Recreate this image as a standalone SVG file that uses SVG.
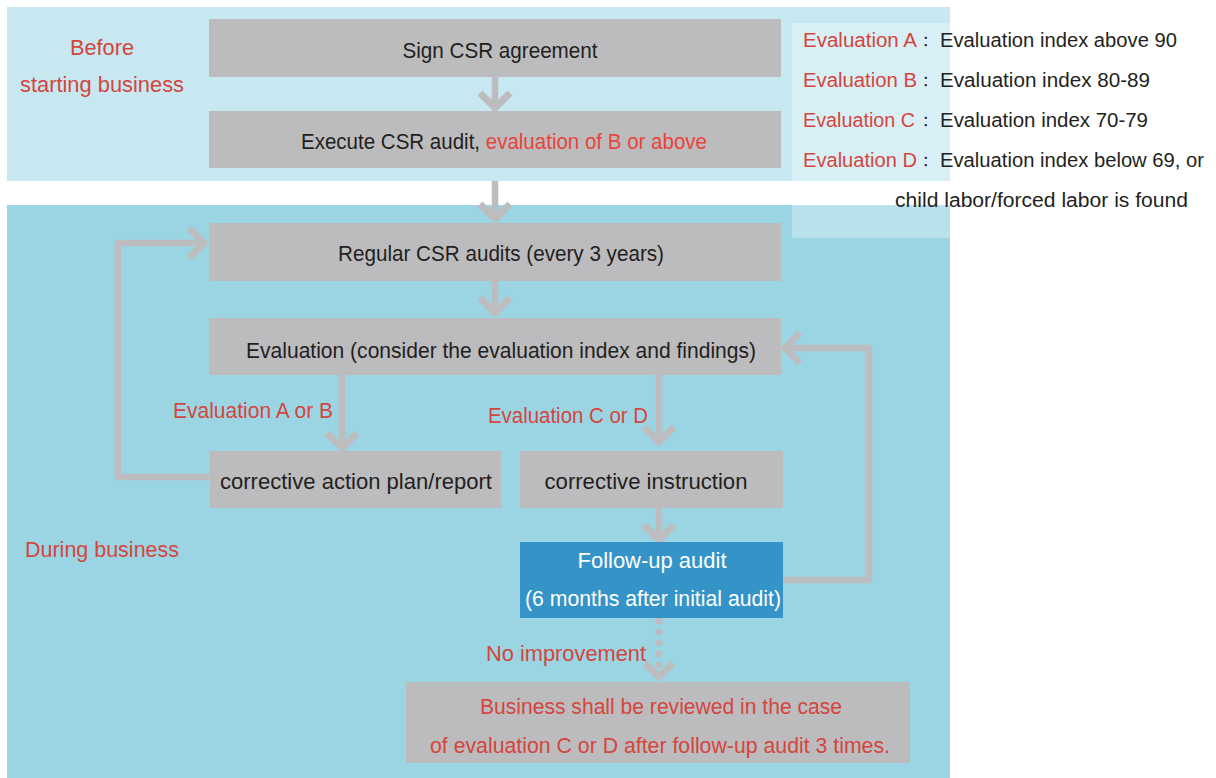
<svg xmlns="http://www.w3.org/2000/svg" width="1216" height="778" viewBox="0 0 1216 778">
<style>
text{font-family:"Liberation Sans",Arial,sans-serif;font-size:22px;fill:#231f20}
.lg{font-size:20px}
.colon{font-size:15px;font-family:"Noto Sans CJK SC","Liberation Sans",sans-serif}
.red{fill:#d5453d}
.red2{fill:#e8453a}
.box{fill:#bcbcbe}
.conn{fill:none;stroke:#bdbdbf;stroke-width:6.5;stroke-linejoin:round}
.head{fill:none;stroke:#bdbdbf;stroke-width:7;stroke-linejoin:round;stroke-linecap:butt}
.w{fill:#ffffff}
</style>
<rect width="1216" height="778" fill="#ffffff"/>
<g id="band-before">
<rect x="7" y="7" width="943" height="174" fill="#c8e8f1"/>
<text class="red" x="102" y="55" text-anchor="middle" textLength="64" lengthAdjust="spacingAndGlyphs">Before</text>
<text class="red" x="102" y="92" text-anchor="middle" textLength="164" lengthAdjust="spacingAndGlyphs">starting business</text>
</g>
<g id="band-during">
<rect x="7" y="205" width="943" height="573" fill="#9bd5e3"/>
<text class="red" x="102" y="557" text-anchor="middle" textLength="154" lengthAdjust="spacingAndGlyphs">During business</text>
</g>
<g id="legend">
<rect x="792" y="23" width="158" height="215" fill="#ffffff" fill-opacity="0.3"/>
<text class="lg red" x="803" y="47" textLength="114" lengthAdjust="spacingAndGlyphs">Evaluation A</text>
<text class="colon" x="922" y="46">：</text>
<text class="lg" x="940" y="47" textLength="237" lengthAdjust="spacingAndGlyphs">Evaluation index above 90</text>
<text class="lg red" x="803" y="87" textLength="114" lengthAdjust="spacingAndGlyphs">Evaluation B</text>
<text class="colon" x="922" y="86">：</text>
<text class="lg" x="940" y="87" textLength="210" lengthAdjust="spacingAndGlyphs">Evaluation index 80-89</text>
<text class="lg red" x="803" y="127" textLength="112" lengthAdjust="spacingAndGlyphs">Evaluation C</text>
<text class="colon" x="922" y="126">：</text>
<text class="lg" x="940" y="127" textLength="208" lengthAdjust="spacingAndGlyphs">Evaluation index 70-79</text>
<text class="lg red" x="803" y="167" textLength="114" lengthAdjust="spacingAndGlyphs">Evaluation D</text>
<text class="colon" x="922" y="166">：</text>
<text class="lg" x="940" y="167" textLength="264" lengthAdjust="spacingAndGlyphs">Evaluation index below 69, or</text>
<text class="lg" x="895" y="207" textLength="293" lengthAdjust="spacingAndGlyphs">child labor/forced labor is found</text>
</g>
<g id="connectors">
<path class="conn" d="M495,77 V106"/>
<path class="head" d="M480,93 L495,108 L510,93"/>
<path class="conn" d="M495,181 V216"/>
<path class="head" d="M480,204 L495,219 L510,204"/>
<path class="conn" d="M495,281 V310"/>
<path class="head" d="M480,298 L495,313 L510,298"/>
<path class="conn" d="M342,375 V446"/>
<path class="head" d="M327,433 L342,448 L357,433"/>
<path class="conn" d="M659,375 V439"/>
<path class="head" d="M644,427 L659,442 L674,427"/>
<path class="conn" d="M659,508 V537"/>
<path class="head" d="M644,525 L659,540 L674,525"/>
<path class="conn" d="M210,477 H118 V243 H201"/>
<path class="head" d="M189,228 L204,243 L189,258"/>
<path class="conn" d="M783,580 H869 V348 H787"/>
<path class="head" d="M800,333 L785,348 L800,363"/>
<path class="conn" d="M659,618 V672" stroke-dasharray="6,5" stroke-width="5"/>
<path class="head" d="M645,663 L659,677 L673,663"/>
</g>
<g id="n-sign">
<rect class="box" x="209" y="19" width="572" height="58"/>
<text x="500" y="58" text-anchor="middle" textLength="195" lengthAdjust="spacingAndGlyphs">Sign CSR agreement</text>
</g>
<g id="n-execute">
<rect class="box" x="209" y="111" width="572" height="57"/>
<text x="504" y="149" text-anchor="middle" textLength="406" lengthAdjust="spacingAndGlyphs">Execute CSR audit, <tspan class="red2">evaluation of B or above</tspan></text>
</g>
<g id="n-regular">
<rect class="box" x="209" y="223" width="572" height="58"/>
<text x="501" y="261" text-anchor="middle" textLength="326" lengthAdjust="spacingAndGlyphs">Regular CSR audits (every 3 years)</text>
</g>
<g id="n-evaluation">
<rect class="box" x="209" y="318" width="572" height="57"/>
<text x="501" y="358" text-anchor="middle" textLength="510" lengthAdjust="spacingAndGlyphs">Evaluation (consider the evaluation index and findings)</text>
</g>
<g id="lbl-ab">
<text class="red" x="253" y="418" text-anchor="middle" textLength="160" lengthAdjust="spacingAndGlyphs">Evaluation A or B</text>
</g>
<g id="lbl-cd">
<text class="red" x="568" y="423" text-anchor="middle" textLength="160" lengthAdjust="spacingAndGlyphs">Evaluation C or D</text>
</g>
<g id="n-action">
<rect class="box" x="210" y="451" width="291" height="57"/>
<text x="356" y="489" text-anchor="middle" textLength="272" lengthAdjust="spacingAndGlyphs">corrective action plan/report</text>
</g>
<g id="n-instruction">
<rect class="box" x="520" y="451" width="263" height="57"/>
<text x="646" y="489" text-anchor="middle" textLength="203" lengthAdjust="spacingAndGlyphs">corrective instruction</text>
</g>
<g id="n-followup">
<rect x="520" y="542" width="263" height="76" fill="#3494c7"/>
<text class="w" x="652" y="568" text-anchor="middle" textLength="149" lengthAdjust="spacingAndGlyphs">Follow-up audit</text>
<text class="w" x="653" y="606" text-anchor="middle" textLength="256" lengthAdjust="spacingAndGlyphs">(6 months after initial audit)</text>
</g>
<g id="lbl-noimp">
<text class="red" x="566" y="661" text-anchor="middle" textLength="160" lengthAdjust="spacingAndGlyphs">No improvement</text>
</g>
<g id="n-review">
<rect class="box" x="406" y="682" width="504" height="81"/>
<text class="red" x="661" y="714" text-anchor="middle" textLength="362" lengthAdjust="spacingAndGlyphs">Business shall be reviewed in the case</text>
<text class="red" x="660" y="753" text-anchor="middle" textLength="460" lengthAdjust="spacingAndGlyphs">of evaluation C or D after follow-up audit 3 times.</text>
</g>
</svg>
